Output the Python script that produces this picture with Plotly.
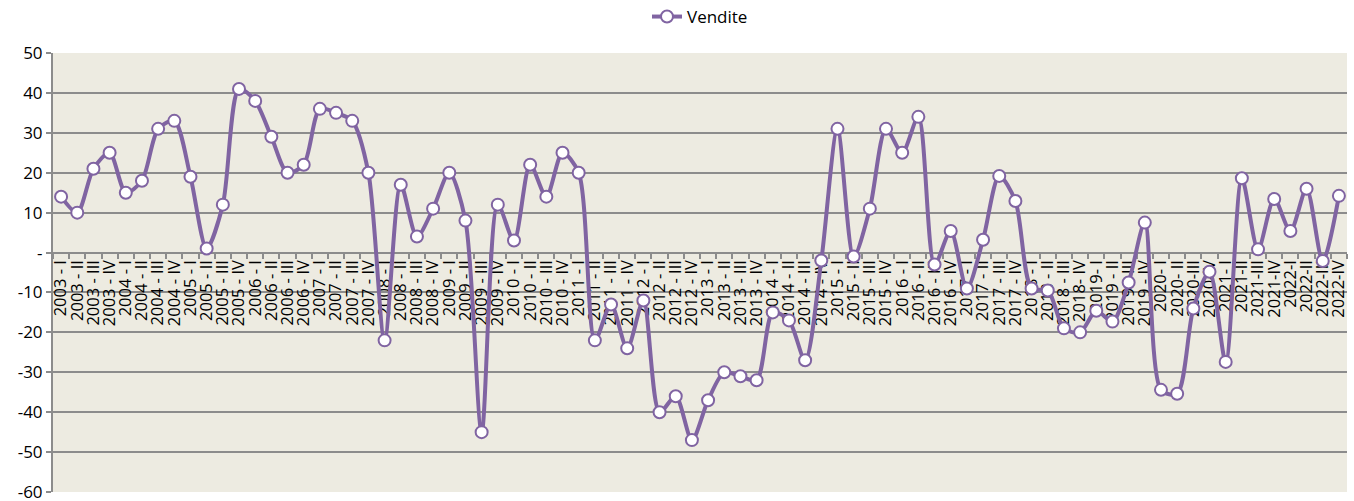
import plotly.graph_objects as go

years = list(range(2003, 2018))
quarters = ["I", "II", "III", "IV"]
labels_early = [f"{y} - {q}" for y in years for q in quarters]
labels_late = ["2018 - I", "2018 - II", "2018 - III", "2018- IV",
               "2019- I", "2019 - II", "2019 - III", "2019 - IV",
               "2020- I", "2020- II", "2020-III", "2020-IV",
               "2021- I", "2021-II", "2021-III", "2021-IV",
               "2022-I", "2022-II", "2022-III", "2022-IV"]
categories = labels_early + labels_late

vendite = [14, 10, 21, 25, 15, 18, 31, 33,
           19, 1, 12, 41, 38, 29, 20, 22,
           36, 35, 33, 20, -22, 17, 4, 11,
           20, 8, -45, 12, 3, 22, 14, 25,
           20, -22, -13, -24, -12, -40, -36, -47,
           -37, -30, -31, -32, -15, -17, -27, -2,
           31, -1, 11, 31, 25, 34, -3, 5.4,
           -9, 3.2, 19.2, 12.9, -9, -9.5, -19, -20,
           -14.6, -17.3, -7.5, 7.5, -34.4, -35.4, -14, -4.8,
           -27.4, 18.6, 0.8, 13.4, 5.4, 16, -2.1, 14.2]

y_tickvals = [50, 40, 30, 20, 10, 0, -10, -20, -30, -40, -50, -60]
y_ticktext = ["50", "40", "30", "20", "10", "-", "-10", "-20", "-30", "-40", "-50", "-60"]

PURPLE = "#8064A2"
GRID = "#8C8C8C"
FONT = "Open Sans"

fig = go.Figure()
fig.add_trace(go.Scatter(
    x=categories, y=vendite, name="Vendite", mode="lines+markers",
    line=dict(color=PURPLE, width=4, shape="spline", smoothing=0.8),
    marker=dict(symbol="circle", size=12, color="white",
                line=dict(color=PURPLE, width=2)),
))

fig.update_layout(
    width=1354, height=501,
    margin=dict(l=53, r=7, t=53, b=9, autoexpand=False),
    paper_bgcolor="white", plot_bgcolor="#EDEBE1",
    font=dict(family=FONT, color="black"),
    showlegend=True,
    legend=dict(orientation="h", x=0.5, xanchor="center", y=1.082, yanchor="middle",
                font=dict(size=17, family=FONT), bgcolor="rgba(0,0,0,0)"),
    xaxis=dict(type="category", categoryorder="array", categoryarray=categories,
               range=[-0.5, len(categories) - 0.5],
               tickmode="linear", tick0=0, dtick=1,
               anchor="free", position=60 / 110,
               showline=True, linecolor=GRID, linewidth=2,
               ticks="outside", ticklen=5, tickcolor=GRID, tickwidth=1.5,
               tickson="boundaries", tickangle=-90,
               tickfont=dict(size=16.5, family=FONT, color="black"),
               showgrid=False, zeroline=False, layer="below traces",
               automargin=False),
    yaxis=dict(range=[-60, 50], tickvals=y_tickvals, ticktext=y_ticktext,
               showgrid=True, gridcolor=GRID, gridwidth=2,
               showline=True, linecolor=GRID, linewidth=2,
               ticks="outside", ticklen=5, tickcolor=GRID, tickwidth=1.5,
               tickfont=dict(size=17, family=FONT, color="black"),
               ticklabeloverflow="allow",
               zeroline=False, automargin=False),
)

fig.write_html("out.html",
               config={"displayModeBar": False},
               post_script="document.body.style.margin='0';document.body.style.overflow='hidden';")
